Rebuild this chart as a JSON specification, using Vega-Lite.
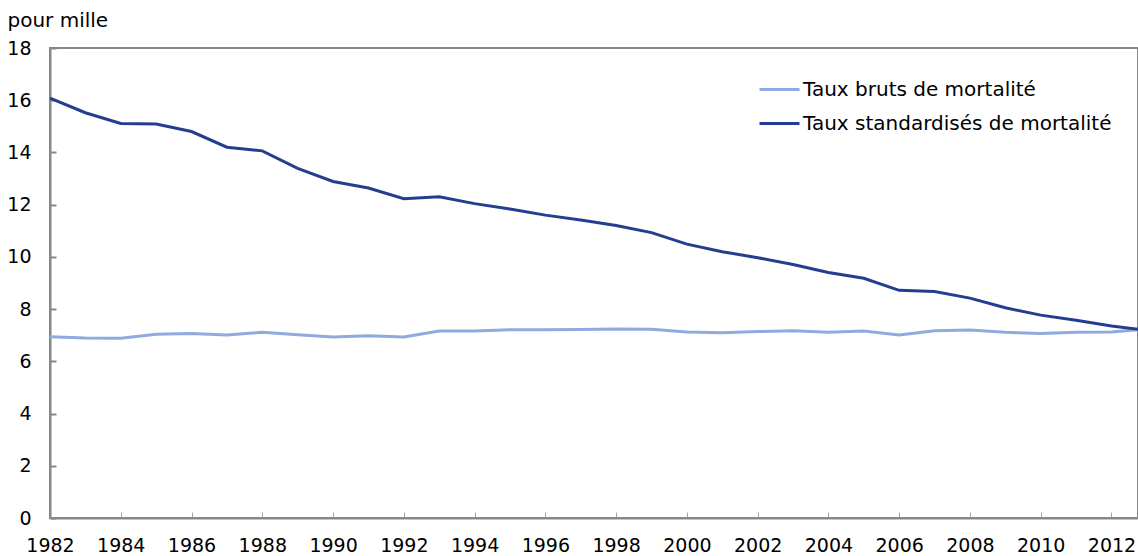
{
  "$schema": "https://vega.github.io/schema/vega-lite/v6.json",
  "width": 1088,
  "height": 470,
  "autosize": {"type": "none"},
  "padding": {"left": 50, "top": 48, "right": 0, "bottom": 38},
  "background": "white",
  "config": {
    "font": "DejaVu Sans",
    "view": {"stroke": "#878787", "strokeWidth": 2}
  },
  "data": {
    "values": [
      {"annee": 1982, "serie": "Taux bruts de mortalité", "taux": 6.94},
      {"annee": 1983, "serie": "Taux bruts de mortalité", "taux": 6.89},
      {"annee": 1984, "serie": "Taux bruts de mortalité", "taux": 6.88},
      {"annee": 1985, "serie": "Taux bruts de mortalité", "taux": 7.04},
      {"annee": 1986, "serie": "Taux bruts de mortalité", "taux": 7.07},
      {"annee": 1987, "serie": "Taux bruts de mortalité", "taux": 7.01},
      {"annee": 1988, "serie": "Taux bruts de mortalité", "taux": 7.11},
      {"annee": 1989, "serie": "Taux bruts de mortalité", "taux": 7.02},
      {"annee": 1990, "serie": "Taux bruts de mortalité", "taux": 6.93},
      {"annee": 1991, "serie": "Taux bruts de mortalité", "taux": 6.98},
      {"annee": 1992, "serie": "Taux bruts de mortalité", "taux": 6.93},
      {"annee": 1993, "serie": "Taux bruts de mortalité", "taux": 7.16},
      {"annee": 1994, "serie": "Taux bruts de mortalité", "taux": 7.16},
      {"annee": 1995, "serie": "Taux bruts de mortalité", "taux": 7.21},
      {"annee": 1996, "serie": "Taux bruts de mortalité", "taux": 7.21},
      {"annee": 1997, "serie": "Taux bruts de mortalité", "taux": 7.22},
      {"annee": 1998, "serie": "Taux bruts de mortalité", "taux": 7.24},
      {"annee": 1999, "serie": "Taux bruts de mortalité", "taux": 7.23},
      {"annee": 2000, "serie": "Taux bruts de mortalité", "taux": 7.12},
      {"annee": 2001, "serie": "Taux bruts de mortalité", "taux": 7.09},
      {"annee": 2002, "serie": "Taux bruts de mortalité", "taux": 7.14},
      {"annee": 2003, "serie": "Taux bruts de mortalité", "taux": 7.17},
      {"annee": 2004, "serie": "Taux bruts de mortalité", "taux": 7.11},
      {"annee": 2005, "serie": "Taux bruts de mortalité", "taux": 7.16},
      {"annee": 2006, "serie": "Taux bruts de mortalité", "taux": 7.01},
      {"annee": 2007, "serie": "Taux bruts de mortalité", "taux": 7.17},
      {"annee": 2008, "serie": "Taux bruts de mortalité", "taux": 7.2},
      {"annee": 2009, "serie": "Taux bruts de mortalité", "taux": 7.11},
      {"annee": 2010, "serie": "Taux bruts de mortalité", "taux": 7.07},
      {"annee": 2011, "serie": "Taux bruts de mortalité", "taux": 7.11},
      {"annee": 2012, "serie": "Taux bruts de mortalité", "taux": 7.12},
      {"annee": 2013, "serie": "Taux bruts de mortalité", "taux": 7.24},
      {"annee": 1982, "serie": "Taux standardisés de mortalité", "taux": 16.08},
      {"annee": 1983, "serie": "Taux standardisés de mortalité", "taux": 15.52},
      {"annee": 1984, "serie": "Taux standardisés de mortalité", "taux": 15.11},
      {"annee": 1985, "serie": "Taux standardisés de mortalité", "taux": 15.09},
      {"annee": 1986, "serie": "Taux standardisés de mortalité", "taux": 14.8},
      {"annee": 1987, "serie": "Taux standardisés de mortalité", "taux": 14.2},
      {"annee": 1988, "serie": "Taux standardisés de mortalité", "taux": 14.06},
      {"annee": 1989, "serie": "Taux standardisés de mortalité", "taux": 13.39},
      {"annee": 1990, "serie": "Taux standardisés de mortalité", "taux": 12.89},
      {"annee": 1991, "serie": "Taux standardisés de mortalité", "taux": 12.64},
      {"annee": 1992, "serie": "Taux standardisés de mortalité", "taux": 12.23},
      {"annee": 1993, "serie": "Taux standardisés de mortalité", "taux": 12.3},
      {"annee": 1994, "serie": "Taux standardisés de mortalité", "taux": 12.04},
      {"annee": 1995, "serie": "Taux standardisés de mortalité", "taux": 11.83},
      {"annee": 1996, "serie": "Taux standardisés de mortalité", "taux": 11.6},
      {"annee": 1997, "serie": "Taux standardisés de mortalité", "taux": 11.41},
      {"annee": 1998, "serie": "Taux standardisés de mortalité", "taux": 11.2},
      {"annee": 1999, "serie": "Taux standardisés de mortalité", "taux": 10.93},
      {"annee": 2000, "serie": "Taux standardisés de mortalité", "taux": 10.49},
      {"annee": 2001, "serie": "Taux standardisés de mortalité", "taux": 10.2},
      {"annee": 2002, "serie": "Taux standardisés de mortalité", "taux": 9.97},
      {"annee": 2003, "serie": "Taux standardisés de mortalité", "taux": 9.71},
      {"annee": 2004, "serie": "Taux standardisés de mortalité", "taux": 9.4},
      {"annee": 2005, "serie": "Taux standardisés de mortalité", "taux": 9.18},
      {"annee": 2006, "serie": "Taux standardisés de mortalité", "taux": 8.72},
      {"annee": 2007, "serie": "Taux standardisés de mortalité", "taux": 8.67},
      {"annee": 2008, "serie": "Taux standardisés de mortalité", "taux": 8.42},
      {"annee": 2009, "serie": "Taux standardisés de mortalité", "taux": 8.05},
      {"annee": 2010, "serie": "Taux standardisés de mortalité", "taux": 7.77},
      {"annee": 2011, "serie": "Taux standardisés de mortalité", "taux": 7.57},
      {"annee": 2012, "serie": "Taux standardisés de mortalité", "taux": 7.35},
      {"annee": 2013, "serie": "Taux standardisés de mortalité", "taux": 7.19}
    ]
  },
  "mark": {"type": "line", "strokeWidth": 3, "clip": true},
  "encoding": {
    "x": {
      "field": "annee",
      "type": "quantitative",
      "scale": {"domain": [1982, 2012.75], "nice": false, "zero": false},
      "axis": {
        "title": null,
        "values": [1982, 1984, 1986, 1988, 1990, 1992, 1994, 1996, 1998, 2000, 2002, 2004, 2006, 2008, 2010, 2012],
        "format": "d",
        "grid": false,
        "domainColor": "#878787",
        "domainWidth": 2,
        "tickColor": "#a0a0a0",
        "tickWidth": 1,
        "tickSize": -6,
        "labelFontSize": 19,
        "labelColor": "#000000",
        "labelBaseline": "middle",
        "labelPadding": 33,
        "labelFlush": false,
        "labelOverlap": false
      }
    },
    "y": {
      "field": "taux",
      "type": "quantitative",
      "scale": {"domain": [0, 18], "nice": false},
      "axis": {
        "title": "pour mille",
        "titleAngle": 0,
        "titleAlign": "left",
        "titleBaseline": "alphabetic",
        "titleX": -43,
        "titleY": -22,
        "titleFontSize": 20,
        "titleFontWeight": "normal",
        "titleColor": "#000000",
        "values": [0, 2, 4, 6, 8, 10, 12, 14, 16, 18],
        "grid": false,
        "domainColor": "#878787",
        "domainWidth": 2,
        "tickColor": "#878787",
        "tickWidth": 2,
        "tickSize": -6,
        "labelFontSize": 19,
        "labelColor": "#000000",
        "labelPadding": 25,
        "labelFlush": false,
        "labelOverlap": false
      }
    },
    "color": {
      "field": "serie",
      "type": "nominal",
      "scale": {
        "domain": ["Taux bruts de mortalité", "Taux standardisés de mortalité"],
        "range": ["#8eaadf", "#243e8f"]
      },
      "legend": {
        "title": null,
        "orient": "none",
        "legendX": 708,
        "legendY": 20,
        "padding": 0,
        "symbolType": "stroke",
        "symbolSize": 1600,
        "symbolStrokeWidth": 3,
        "labelFontSize": 20,
        "labelColor": "#000000",
        "labelOffset": 2,
        "rowPadding": 2,
        "labelLimit": 400
      }
    }
  }
}
